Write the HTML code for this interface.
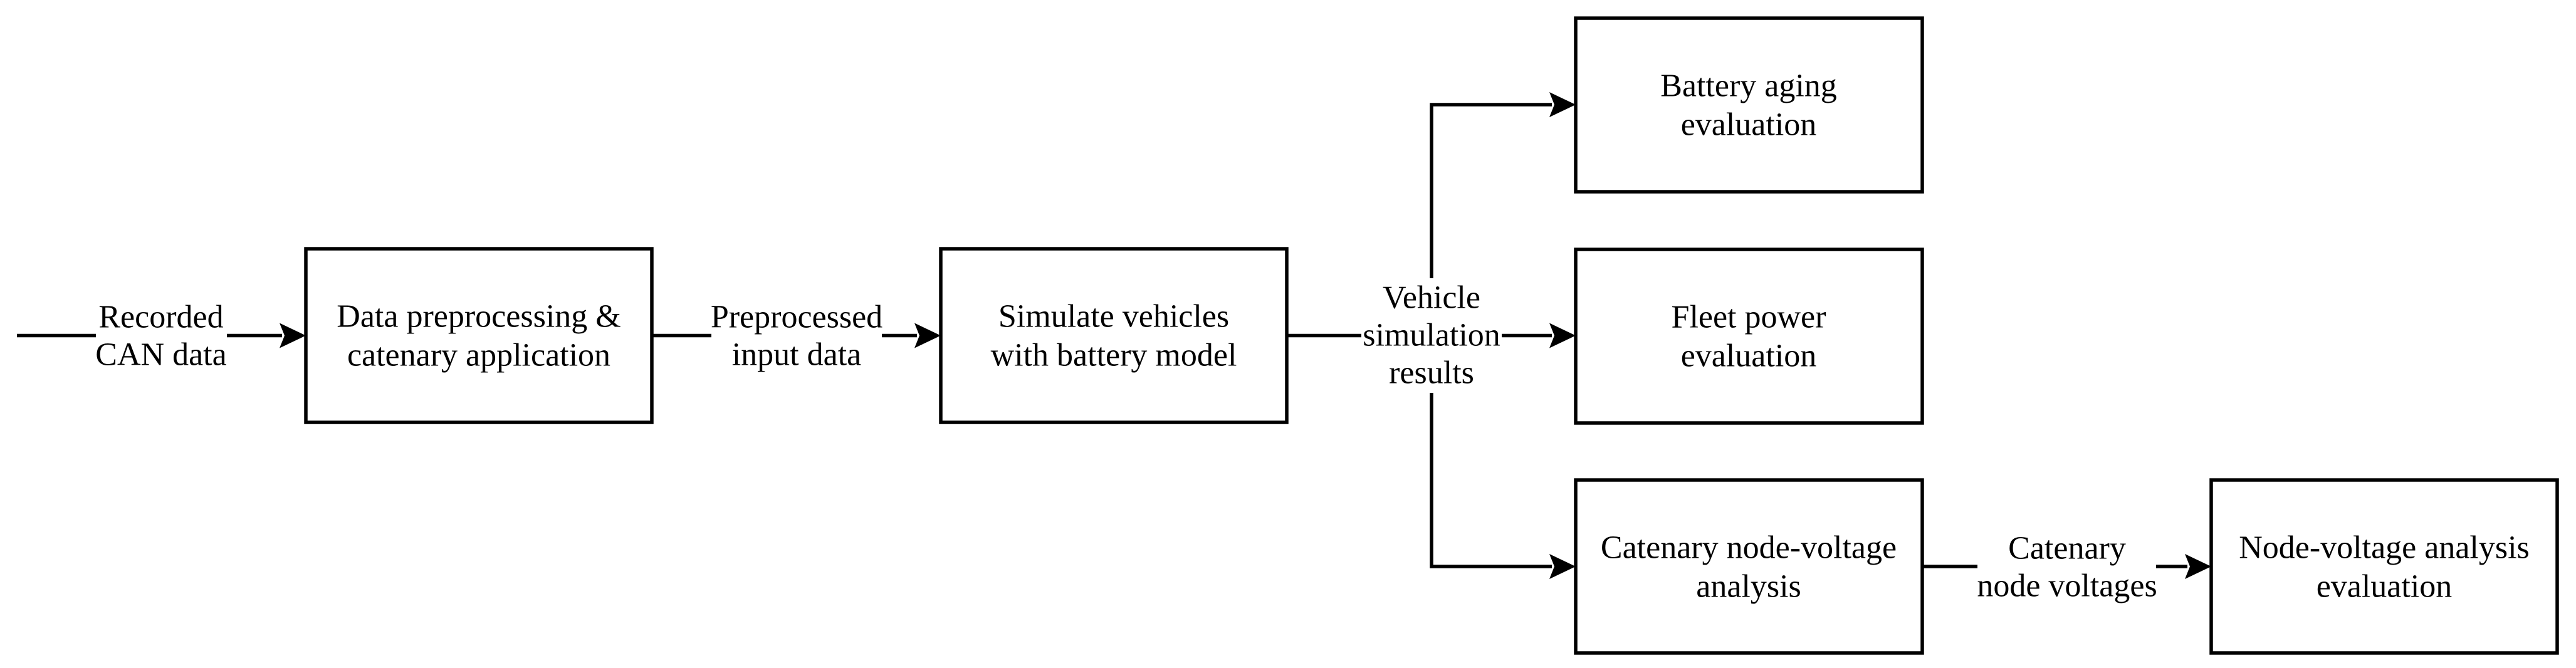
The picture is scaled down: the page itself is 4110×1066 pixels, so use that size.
<!DOCTYPE html>
<html><head><meta charset="utf-8"><style>
html,body{margin:0;padding:0;background:#fff;}
svg{display:block;}
text{font-family:"Liberation Serif",serif;font-size:52px;fill:#000;text-anchor:middle;dominant-baseline:central;}
</style></head><body>
<svg width="4110" height="1066" viewBox="0 0 4110 1066" xmlns="http://www.w3.org/2000/svg">
<g fill="none" stroke="#000" stroke-width="5.5">
<rect x="488" y="397" width="552" height="277"/>
<rect x="1501" y="397" width="552" height="277"/>
<rect x="2514" y="29" width="553" height="277"/>
<rect x="2514" y="398" width="553" height="277"/>
<rect x="2514" y="766" width="553" height="276"/>
<rect x="3528" y="766" width="552" height="276"/>
<!-- connectors -->
<path d="M27 535.5 H153 M362 535.5 H450"/>
<path d="M1040 535.5 H1135 M1407 535.5 H1463"/>
<path d="M2053 535.5 H2172 M2396 535.5 H2476"/>
<path d="M2284 444 V167 H2476"/>
<path d="M2284 627 V904 H2476"/>
<path d="M3067 904 H3155 M3440 904 H3490"/>
</g>
<g fill="#000">
<polygon points="488,535.5 446,515.5 454,535.5 446,555.5"/>
<polygon points="1501,535.5 1459,515.5 1467,535.5 1459,555.5"/>
<polygon points="2514,535.5 2472,515.5 2480,535.5 2472,555.5"/>
<polygon points="2514,167 2472,147 2480,167 2472,187"/>
<polygon points="2514,904 2472,884 2480,904 2472,924"/>
<polygon points="3528,904 3486,884 3494,904 3486,924"/>
</g>
<text x="257" y="506">Recorded</text>
<text x="257" y="566">CAN data</text>
<text x="764" y="505">Data preprocessing &amp;</text>
<text x="764" y="567">catenary application</text>
<text x="1271" y="506">Preprocessed</text>
<text x="1271" y="566">input data</text>
<text x="1777" y="505">Simulate vehicles</text>
<text x="1777" y="567">with battery model</text>
<text x="2284" y="475">Vehicle</text>
<text x="2284" y="535">simulation</text>
<text x="2284" y="595">results</text>
<text x="2790" y="137">Battery aging</text>
<text x="2790" y="199">evaluation</text>
<text x="2790" y="506">Fleet power</text>
<text x="2790" y="568">evaluation</text>
<text x="2790" y="874">Catenary node-voltage</text>
<text x="2790" y="936">analysis</text>
<text x="3298" y="875">Catenary</text>
<text x="3298" y="935">node voltages</text>
<text x="3804" y="874">Node-voltage analysis</text>
<text x="3804" y="936">evaluation</text>
</svg>
</body></html>
